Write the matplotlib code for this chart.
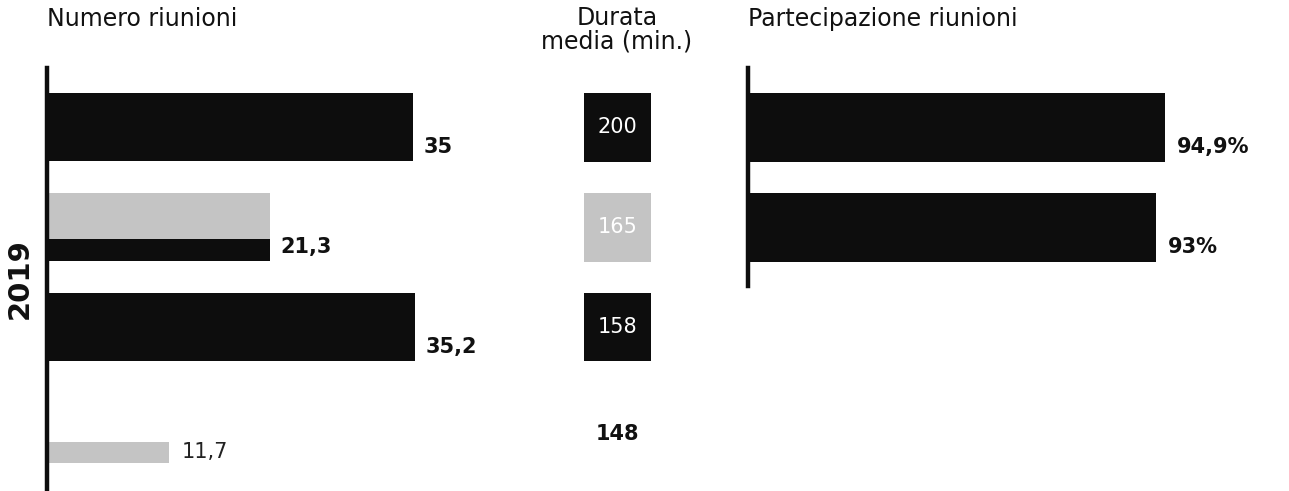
import matplotlib.pyplot as plt
import numpy as np

plt.rcParams['font.family'] = ['DejaVu Sans']

# dati
numero = [35, 21.3, 35.2, 11.7]
numero_lbl = ['35', '21,3', '35,2', '11,7']
durata = [200, 165, 158, 148]
partecipazione = [94.9, 93]
partecipazione_lbl = ['94,9%', '93%']

nero = '#0d0d0d'
grigio = '#c4c4c4'
col_num = [nero, grigio, nero, grigio]
col_dur = [nero, grigio, nero, None]
col_par = [nero, nero]

W, H = 1289, 491
fig = plt.figure(figsize=(W / 100, H / 100), dpi=100)


def px_axes(x0, y0, x1, y1):
    # rettangolo in pixel (origine in alto a sinistra)
    return fig.add_axes([x0 / W, 1 - y1 / H, (x1 - x0) / W, (y1 - y0) / H])


# scala verticale: 100 px per riga, riga 0 centrata a y=127
def ylims(top, bottom):
    return ((bottom - 127) / 100, (top - 127) / 100)


pos = np.array([0, 1, 2, 3.25])
alt = np.array([0.68, 0.68, 0.68, 0.21])

# --- Numero riunioni ---
ax1 = px_axes(47, 68, 560, 491)
ax1.set_ylim(*ylims(68, 491))
ax1.set_xlim(0, (560 - 47) / 10.45)
ax1.barh(pos, numero, height=alt, color=col_num, edgecolor='none')
# fascia scura sotto la barra grigia (come nella stampa)
ax1.barh(pos[1] + 0.23, numero[1], height=0.22, color=nero, edgecolor='none')
for p, v, s in zip(pos, numero, numero_lbl):
    if p < 3:
        ax1.text(v + 1.0, p + 0.2, s, va='center', ha='left', fontsize=15,
                 fontweight='bold', color='#111111')
    else:
        ax1.text(v + 1.2, p, s, va='center', ha='left', fontsize=15,
                 color='#222222')

# --- Durata media ---
ax2 = px_axes(584, 68, 651, 491)
ax2.set_ylim(*ylims(68, 491))
ax2.set_xlim(0, 1)
for p, v, c in zip(pos, durata, col_dur):
    if c is not None:
        ax2.barh(p, 1, height=0.69, color=c, edgecolor='none')
        ax2.text(0.5, p, str(v), ha='center', va='center', fontsize=15,
                 color='white')
    else:
        ax2.text(0.5, p - 0.18, str(v), ha='center', va='center',
                 fontsize=15, fontweight='bold', color='#111111')

# --- Partecipazione riunioni ---
ax3 = px_axes(748, 68, 1289, 286)
ax3.set_ylim(*ylims(68, 286))
ax3.set_xlim(0, (1289 - 748) / 4.39)
ax3.barh(pos[:2], partecipazione, height=0.69, color=col_par, edgecolor='none')
for p, v, s in zip(pos[:2], partecipazione, partecipazione_lbl):
    ax3.text(v + 2.7, p + 0.2, s, va='center', ha='left', fontsize=15,
             fontweight='bold', color='#111111')

for ax in (ax1, ax2, ax3):
    ax.set_xticks([])
    ax.set_yticks([])
    for sp in ax.spines.values():
        sp.set_visible(False)
    ax.patch.set_alpha(0)
for ax in (ax1, ax3):
    ax.spines['left'].set_visible(True)
    ax.spines['left'].set_linewidth(3.2)
    ax.spines['left'].set_color(nero)

# titoli
fig.text(47 / W, 1 - 19 / H, 'Numero riunioni', fontsize=17,
         va='center', ha='left', color='#111111')
fig.text(617 / W, 1 - 30 / H, 'Durata\nmedia (min.)', fontsize=17,
         va='center', ha='center', color='#111111', linespacing=0.95)
fig.text(748 / W, 1 - 19 / H, 'Partecipazione riunioni', fontsize=17,
         va='center', ha='left', color='#111111')
fig.text(20 / W, 1 - 279 / H, '2019', fontsize=21, fontweight='bold',
         rotation=90, va='center', ha='center', color='#111111')

fig.savefig('out.png', dpi=100)
